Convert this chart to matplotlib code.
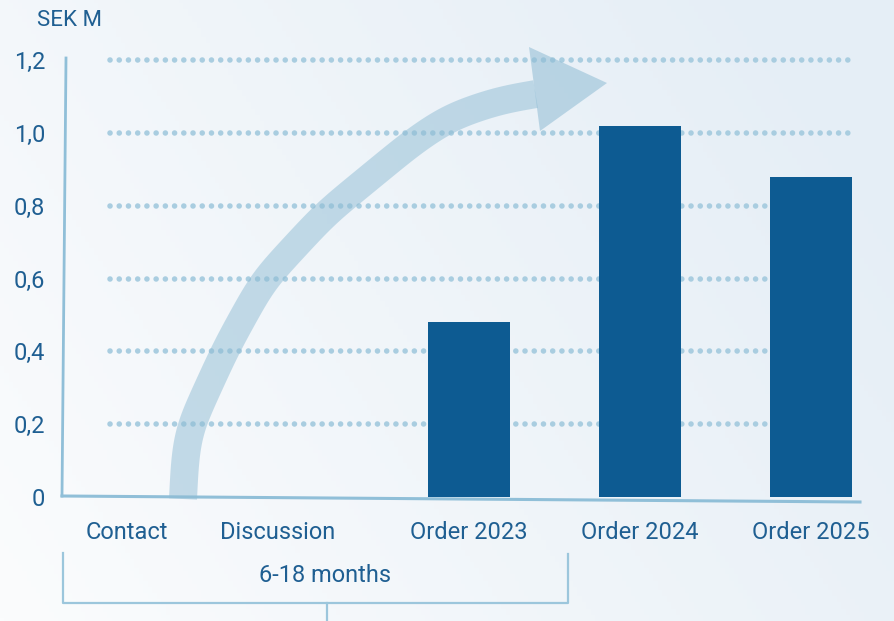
import numpy as np
import matplotlib
matplotlib.use("Agg")
import matplotlib.pyplot as plt
from matplotlib.patches import Polygon
from matplotlib.transforms import Affine2D, ScaledTranslation

# data
categories = ["Contact", "Discussion", "Order 2023", "Order 2024", "Order 2025"]
bar_categories = ["Order 2023", "Order 2024", "Order 2025"]
bar_values = [0.48, 1.02, 0.88]
y_ticks = [0, 0.2, 0.4, 0.6, 0.8, 1.0, 1.2]
y_tick_labels = ["0", "0,2", "0,4", "0,6", "0,8", "1,0", "1,2"]
unit_label = "SEK M"
span_label = "6-18 months"

TEXT = "#1f5f92"
BAR = "#0d5b92"
AXIS = "#90bfd8"
GRID = "#a9cde0"

plt.rcParams["font.family"] = ["Roboto", "DejaVu Sans"]

W, H = 895, 621
fig = plt.figure(figsize=(W / 100, H / 100), dpi=100)

# pixel transform (image coords, y down) for decorations
px = Affine2D().scale(1 / W, -1 / H).translate(0, 1) + fig.transFigure

# background gradient
bg = fig.add_axes([0, 0, 1, 1], zorder=-10)
gx, gy = np.meshgrid(np.linspace(0, 1, 200), np.linspace(0, 1, 200))
t = np.clip(0.75 * gx + 0.35 * gy, 0, 1)[..., None]
c0 = np.array([251, 252, 253]) / 255
c1 = np.array([229, 238, 246]) / 255
bg.imshow(c0 * (1 - t) + c1 * t, extent=[0, 1, 0, 1], origin="lower", aspect="auto")
bg.axis("off")

# main axes: x=0 at 127px, 171px per category; y 0 at 497px, 1.2 at 60px
ax = fig.add_axes([62 / W, (H - 497) / H, 798 / W, 437 / H])
ax.set_facecolor("none")
ax.set_xlim(-65 / 171, (860 - 127) / 171)
ax.set_ylim(0, 1.2)
for s in ax.spines.values():
    s.set_visible(False)

xpos = {c: i for i, c in enumerate(categories)}

# dotted gridlines
for v in y_ticks[1:]:
    ax.plot([-17 / 171, (850 - 127) / 171], [v, v], color=GRID, lw=4.0,
            linestyle=(0, (0.01, 1.65)), dash_capstyle="round", zorder=1,
            clip_on=False)

# bars
ax.bar([xpos[c] for c in bar_categories], bar_values, width=0.48,
       color=BAR, zorder=3)

ax.set_xticks(range(len(categories)))
ax.set_xticklabels(categories, fontsize=17, color=TEXT)
ax.set_yticks(y_ticks)
ax.set_yticklabels(y_tick_labels, fontsize=17, color=TEXT)
ax.tick_params(axis="x", length=0, pad=17)
ax.tick_params(axis="y", length=0, pad=12)
# "Discussion" sits a bit left of the even spacing in the original
lbl = ax.get_xticklabels()[1]
lbl.set_transform(lbl.get_transform() + ScaledTranslation(-0.2, 0, fig.dpi_scale_trans))

# axis lines (slightly skewed as in the original)
fig.add_artist(plt.Line2D([66, 62], [58, 496], color=AXIS, lw=2, transform=px))
fig.add_artist(plt.Line2D([62, 860], [496, 502], color=AXIS, lw=2.2, transform=px))

fig.text(37 / W, 1 - 20 / H, unit_label, fontsize=16, color=TEXT, va="center")

# curved arrow: traced centre line, resampled and smoothed
trace = np.array([(183, 499), (185, 457), (189, 429), (226, 348), (263, 281),
                  (325, 214), (414, 141), (450, 117), (500, 100), (536, 94)], dtype=float)
seg = np.hypot(*np.diff(trace, axis=0).T)
s = np.r_[0, np.cumsum(seg)]
ss = np.arange(0, s[-1], 1.0)
cx = np.interp(ss, s, trace[:, 0])
cy = np.interp(ss, s, trace[:, 1])
k = 60
d0 = (trace[1] - trace[0]) / seg[0]
d1 = (trace[-1] - trace[-2]) / seg[-1]
pre = trace[0] - np.outer(np.arange(k, 0, -1), d0)
post = trace[-1] + np.outer(np.arange(1, k + 1), d1)
cx = np.r_[pre[:, 0], cx, post[:, 0]]
cy = np.r_[pre[:, 1], cy, post[:, 1]]
g = np.exp(-0.5 * (np.arange(-k, k + 1) / 18.0) ** 2)
g /= g.sum()
center = np.column_stack([np.convolve(cx, g, mode="valid"), np.convolve(cy, g, mode="valid")])

dx = np.gradient(center[:, 0])
dy = np.gradient(center[:, 1])
nrm = np.hypot(dx, dy)
nx_, ny_ = -dy / nrm, dx / nrm
half = 14
left = np.column_stack([center[:, 0] + nx_ * half, center[:, 1] + ny_ * half])
right = np.column_stack([center[:, 0] - nx_ * half, center[:, 1] - ny_ * half])
band = np.vstack([left, right[::-1]])
fig.add_artist(Polygon(band, closed=True, facecolor="#8fbcd4", alpha=0.5,
                       edgecolor="none", transform=px, zorder=2))
fig.add_artist(Polygon([(529, 47), (607, 83), (540, 131)], closed=True,
                       facecolor="#8fbcd4", alpha=0.55, edgecolor="none",
                       transform=px, zorder=2))

# bracket with span label
fig.add_artist(plt.Line2D([63, 63, 568, 568], [553, 603, 603, 554],
                          color="#9cc6dc", lw=1.6, transform=px))
fig.add_artist(plt.Line2D([327, 327], [603, 621], color="#9cc6dc", lw=1.6,
                          transform=px))
fig.text(325 / W, 1 - 576 / H, span_label, fontsize=17, color=TEXT,
         ha="center", va="center")

fig.savefig("out.png", dpi=100)
